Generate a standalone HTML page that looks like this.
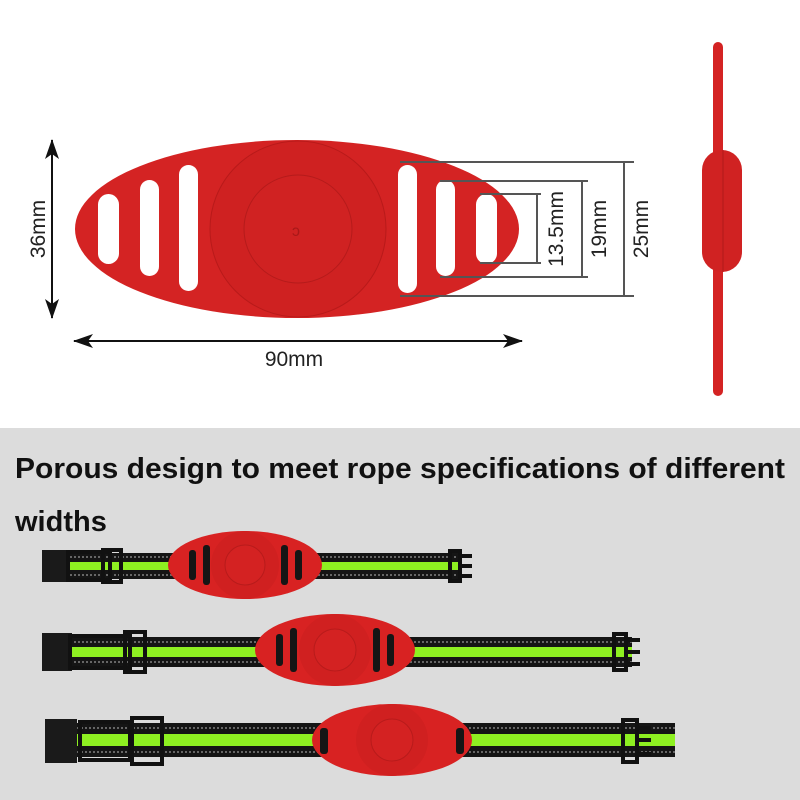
<!DOCTYPE html>
<html><head><meta charset="utf-8"><style>
html,body{margin:0;padding:0;width:800px;height:800px;overflow:hidden;background:#fff}
svg{display:block}
</style></head><body>
<svg width="800" height="800" viewBox="0 0 800 800" xmlns="http://www.w3.org/2000/svg" font-family="Liberation Sans, sans-serif">
<defs>
<marker id="ah" viewBox="0 0 20 14" refX="19" refY="7" markerWidth="20" markerHeight="14" orient="auto-start-reverse" markerUnits="userSpaceOnUse"><path d="M0,0 L20,7 L0,14 L5,7z" fill="#111"/></marker>
</defs>
<rect x="0" y="0" width="800" height="428" fill="#fff"/>
<rect x="0" y="428" width="800" height="372" fill="#dcdcdc"/>

<!-- main product -->
<ellipse cx="297" cy="229" rx="222" ry="89" fill="#d42323"/>
<circle cx="298" cy="229" r="88" fill="#cf2121" stroke="#b81a1a" stroke-width="1"/>
<circle cx="298" cy="229" r="54" fill="#d02222" stroke="#b51b1b" stroke-width="1"/>
<text x="296" y="236" font-size="16" fill="#a81818" text-anchor="middle">ↄ</text>
<g fill="#fff">
<rect x="98" y="194" width="21" height="70" rx="10.5"/>
<rect x="140" y="180" width="19" height="96" rx="9.5"/>
<rect x="179" y="165" width="19" height="126" rx="9.5"/>
<rect x="398" y="165" width="19" height="128" rx="9.5"/>
<rect x="436" y="180" width="19" height="96" rx="9.5"/>
<rect x="476" y="194" width="21" height="70" rx="10.5"/>
</g>
<!-- dimensions -->
<g stroke="#555" stroke-width="2" fill="none">
<path d="M400 162H634 M400 296H634 M624 162V296"/>
<path d="M440 181H588 M440 277H588 M582 181V277"/>
<path d="M480 194H541 M480 263H541 M537 194V263"/>
</g>
<g font-size="21" fill="#222" text-anchor="middle">
<text transform="translate(563,229) rotate(-90)">13.5mm</text>
<text transform="translate(606,229) rotate(-90)">19mm</text>
<text transform="translate(648,229) rotate(-90)">25mm</text>
<text transform="translate(45,229) rotate(-90)">36mm</text>
<text x="294" y="366">90mm</text>
</g>
<line x1="52" y1="140" x2="52" y2="318" stroke="#111" stroke-width="2" marker-start="url(#ah)" marker-end="url(#ah)"/>
<line x1="74" y1="341" x2="522" y2="341" stroke="#111" stroke-width="2" marker-start="url(#ah)" marker-end="url(#ah)"/>

<!-- side view -->
<rect x="713" y="42" width="10" height="354" rx="5" fill="#d42323"/>
<rect x="702" y="150" width="40" height="122" rx="20" fill="#d02222"/>
<line x1="723" y1="150" x2="723" y2="272" stroke="#b01a1a" stroke-width="1"/>

<!-- text -->
<g font-weight="bold" font-size="29" fill="#111">
<text x="15" y="478" textLength="770" lengthAdjust="spacingAndGlyphs">Porous design to meet rope specifications of different</text>
<text x="15" y="531">widths</text>
</g>

<!-- collar 1 -->
<g>
<rect x="42" y="553" width="420" height="26" fill="#151515"/>
<rect x="42" y="562" width="420" height="8" fill="#8ef021"/>
<line x1="42" y1="557" x2="462" y2="557" stroke="#666" stroke-width="2" stroke-dasharray="2 2"/>
<line x1="42" y1="575" x2="462" y2="575" stroke="#666" stroke-width="2" stroke-dasharray="2 2"/>
<rect x="42" y="550" width="28" height="32" fill="#1a1a1a"/>
<rect x="68" y="552" width="42" height="28" fill="none" stroke="#111" stroke-width="4"/>
<rect x="103" y="550" width="18" height="32" fill="none" stroke="#111" stroke-width="4"/>
<path d="M450 551h10v30h-10z M460 556h12 M460 566h12 M460 576h12" stroke="#111" stroke-width="4" fill="none"/>
<ellipse cx="245" cy="565" rx="77" ry="34" fill="#d82222"/>
<circle cx="245" cy="565" r="34" fill="#d02020"/>
<circle cx="245" cy="565" r="20" fill="#d42222" stroke="#b81b1b"/>
<g fill="#151515"><rect x="189" y="550" width="7" height="30" rx="3"/><rect x="203" y="545" width="7" height="40" rx="3"/><rect x="281" y="545" width="7" height="40" rx="3"/><rect x="295" y="550" width="7" height="30" rx="3"/></g>
</g>

<!-- collar 2 -->
<g>
<rect x="42" y="637" width="590" height="30" fill="#151515"/>
<rect x="42" y="647" width="590" height="10" fill="#8ef021"/>
<line x1="42" y1="642" x2="632" y2="642" stroke="#666" stroke-width="2" stroke-dasharray="2 2"/>
<line x1="42" y1="662" x2="632" y2="662" stroke="#666" stroke-width="2" stroke-dasharray="2 2"/>
<rect x="42" y="633" width="30" height="38" fill="#1a1a1a"/>
<rect x="70" y="636" width="60" height="32" fill="none" stroke="#111" stroke-width="4"/>
<rect x="125" y="632" width="20" height="40" fill="none" stroke="#111" stroke-width="4"/>
<path d="M614 634h12v36h-12z M626 640h14 M626 652h14 M626 664h14" stroke="#111" stroke-width="4" fill="none"/>
<ellipse cx="335" cy="650" rx="80" ry="36" fill="#d82222"/>
<circle cx="335" cy="650" r="36" fill="#d02020"/>
<circle cx="335" cy="650" r="21" fill="#d42222" stroke="#b81b1b"/>
<g fill="#151515"><rect x="276" y="634" width="7" height="32" rx="3"/><rect x="290" y="628" width="7" height="44" rx="3"/><rect x="373" y="628" width="7" height="44" rx="3"/><rect x="387" y="634" width="7" height="32" rx="3"/></g>
</g>

<!-- collar 3 -->
<g>
<rect x="45" y="723" width="630" height="34" fill="#151515"/>
<rect x="45" y="734" width="630" height="12" fill="#8ef021"/>
<line x1="45" y1="728" x2="675" y2="728" stroke="#666" stroke-width="2" stroke-dasharray="2 2"/>
<line x1="45" y1="752" x2="675" y2="752" stroke="#666" stroke-width="2" stroke-dasharray="2 2"/>
<rect x="45" y="719" width="32" height="44" fill="#1a1a1a"/>
<rect x="80" y="722" width="50" height="38" fill="none" stroke="#111" stroke-width="4"/>
<rect x="132" y="718" width="30" height="46" fill="none" stroke="#111" stroke-width="4"/>
<path d="M623 720h14v42h-14z M637 728h14 M637 740h14 M637 754h14" stroke="#111" stroke-width="4" fill="none"/>
<ellipse cx="392" cy="740" rx="80" ry="36" fill="#d82222"/>
<circle cx="392" cy="740" r="36" fill="#d02020"/>
<circle cx="392" cy="740" r="21" fill="#d42222" stroke="#b81b1b"/>
<g fill="#151515"><rect x="320" y="728" width="8" height="26" rx="3"/><rect x="456" y="728" width="8" height="26" rx="3"/></g>
</g>
</svg>
</body></html>
